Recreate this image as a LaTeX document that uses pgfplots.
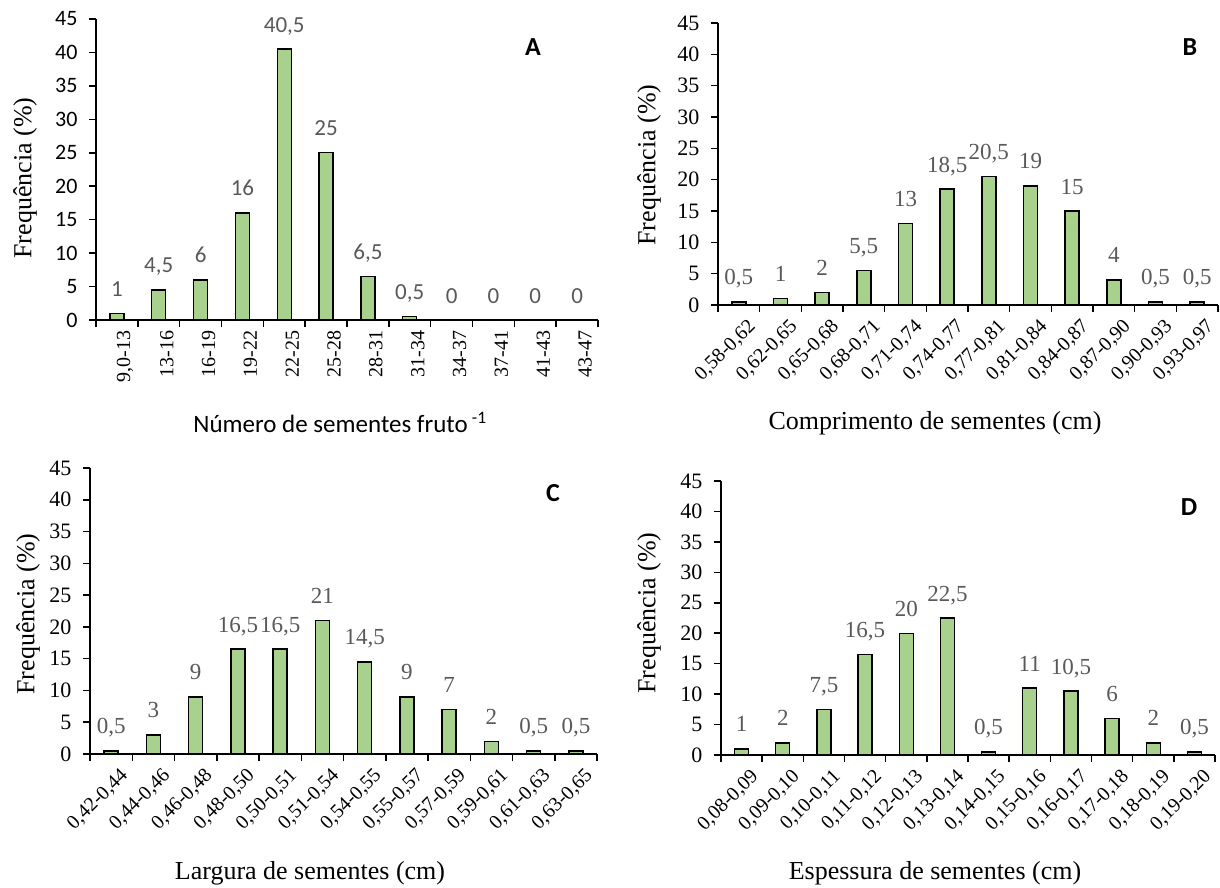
\documentclass[border=0pt]{standalone}
\usepackage{fontspec}
\setmainfont{Liberation Serif}
\newfontfamily\calibri{Carlito}
\newfontfamily\tnr{Liberation Serif}
\usepackage{pgfplots}
\pgfplotsset{compat=1.18}

\definecolor{barG}{RGB}{169,209,142}
\definecolor{lblG}{RGB}{89,89,89}

\pgfplotsset{
  histo/.style={
    scale only axis, anchor=south west,
    ybar, bar width=14pt,
    xmin=-0.5, xmax=11.5, ymin=0, ymax=45,
    ytick={0,5,...,45},
    xtick={0,...,11},
    minor xtick={-0.5,0.5,...,11.5},
    axis x line=bottom, axis y line=left,
    axis line style={-, line width=1.5pt, black},
    tick align=outside,
    major tick length=7pt, minor tick length=7pt,
    major x tick style={draw=none},
    minor x tick style={line width=1.5pt, black},
    major y tick style={line width=1.5pt, black},
    /pgf/number format/.cd, use comma, 1000 sep={}, assume math mode=true, /pgfplots/.cd,
    clip=false,
    nodes near coords,
    nodes near coords align={anchor=base},
    every node near coord/.append style={anchor=base, yshift=17pt, text=lblG,
      font=\tnr\fontsize{23}{27}\selectfont},
    yticklabel={\tnr\pgfmathprintnumber{\tick}},
    yticklabel style={font=\tnr\fontsize{22}{26}\selectfont, xshift=-8pt},
  },
  diag/.style={xticklabel style={font=\tnr\fontsize{20}{24}\selectfont, anchor=east, rotate=45,
      yshift=-18pt, xshift=5pt}},
  vert/.style={xticklabel style={font=\tnr\fontsize{20}{24}\selectfont, anchor=east, rotate=90,
      yshift=-8pt}},
  barstyle/.style={fill=barG, draw=black, line width=1.4pt},
}

\begin{document}
\begin{tikzpicture}
\useasboundingbox (0pt,0pt) rectangle (1220pt,-888pt);

% A: number of seeds per fruit
\begin{axis}[histo, vert, at={(96pt,-320pt)}, width=502pt, height=301pt,
  yticklabel={\calibri\pgfmathprintnumber{\tick}},
  yticklabel style={font=\calibri\fontsize{22}{26}\selectfont},
  every node near coord/.append style={font=\calibri\fontsize{23}{27}\selectfont},
  xticklabels={{9,0-13},{13-16},{16-19},{19-22},{22-25},{25-28},{28-31},{31-34},{34-37},{37-41},{41-43},{43-47}}]
\addplot[barstyle] coordinates {(0,1) (1,4.5) (2,6) (3,16) (4,40.5) (5,25) (6,6.5) (7,0.5) (8,0) (9,0) (10,0) (11,0)};
\end{axis}

% B: seed length
\begin{axis}[histo, diag, at={(718pt,-305pt)}, width=500pt, height=282pt,
  xticklabels={{0,58-0,62},{0,62-0,65},{0,65-0,68},{0,68-0,71},{0,71-0,74},{0,74-0,77},{0,77-0,81},{0,81-0,84},{0,84-0,87},{0,87-0,90},{0,90-0,93},{0,93-0,97}}]
\addplot[barstyle] coordinates {(0,0.5) (1,1) (2,2) (3,5.5) (4,13) (5,18.5) (6,20.5) (7,19) (8,15) (9,4) (10,0.5) (11,0.5)};
\end{axis}

% C: seed width
\begin{axis}[histo, diag, at={(90pt,-754pt)}, width=507pt, height=286pt,
  xticklabels={{0,42-0,44},{0,44-0,46},{0,46-0,48},{0,48-0,50},{0,50-0,51},{0,51-0,54},{0,54-0,55},{0,55-0,57},{0,57-0,59},{0,59-0,61},{0,61-0,63},{0,63-0,65}}]
\addplot[barstyle] coordinates {(0,0.5) (1,3) (2,9) (3,16.5) (4,16.5) (5,21) (6,14.5) (7,9) (8,7) (9,2) (10,0.5) (11,0.5)};
\end{axis}

% D: seed thickness
\begin{axis}[histo, diag, at={(721pt,-755pt)}, width=494pt, height=274pt,
  xticklabels={{0,08-0,09},{0,09-0,10},{0,10-0,11},{0,11-0,12},{0,12-0,13},{0,13-0,14},{0,14-0,15},{0,15-0,16},{0,16-0,17},{0,17-0,18},{0,18-0,19},{0,19-0,20}}]
\addplot[barstyle] coordinates {(0,1) (1,2) (2,7.5) (3,16.5) (4,20) (5,22.5) (6,0.5) (7,11) (8,10.5) (9,6) (10,2) (11,0.5)};
\end{axis}

% panel letters
\begin{scope}[every node/.style={font=\calibri\bfseries\fontsize{26}{30}\selectfont}]
\node at (533pt,-47pt) {A};
\node at (1190pt,-47pt) {B};
\node at (553pt,-493pt) {C};
\node at (1189pt,-507pt) {D};
\end{scope}

% axis titles
\begin{scope}[every node/.style={font=\tnr\fontsize{26}{30}\selectfont}]
\node[rotate=90] at (25pt,-178pt) {Frequência (\%)};
\node[rotate=90] at (649pt,-165pt) {Frequência (\%)};
\node[rotate=90] at (28pt,-614pt) {Frequência (\%)};
\node[rotate=90] at (649pt,-613pt) {Frequência (\%)};
\node[font=\calibri\fontsize{25}{30}\selectfont] at (340pt,-422pt) {Número de sementes fruto\,\textsuperscript{-1}};
\node at (935pt,-423pt) {Comprimento de sementes (cm)};
\node at (310pt,-873pt) {Largura de sementes (cm)};
\node at (935pt,-873pt) {Espessura de sementes (cm)};
\end{scope}
\end{tikzpicture}
\end{document}
